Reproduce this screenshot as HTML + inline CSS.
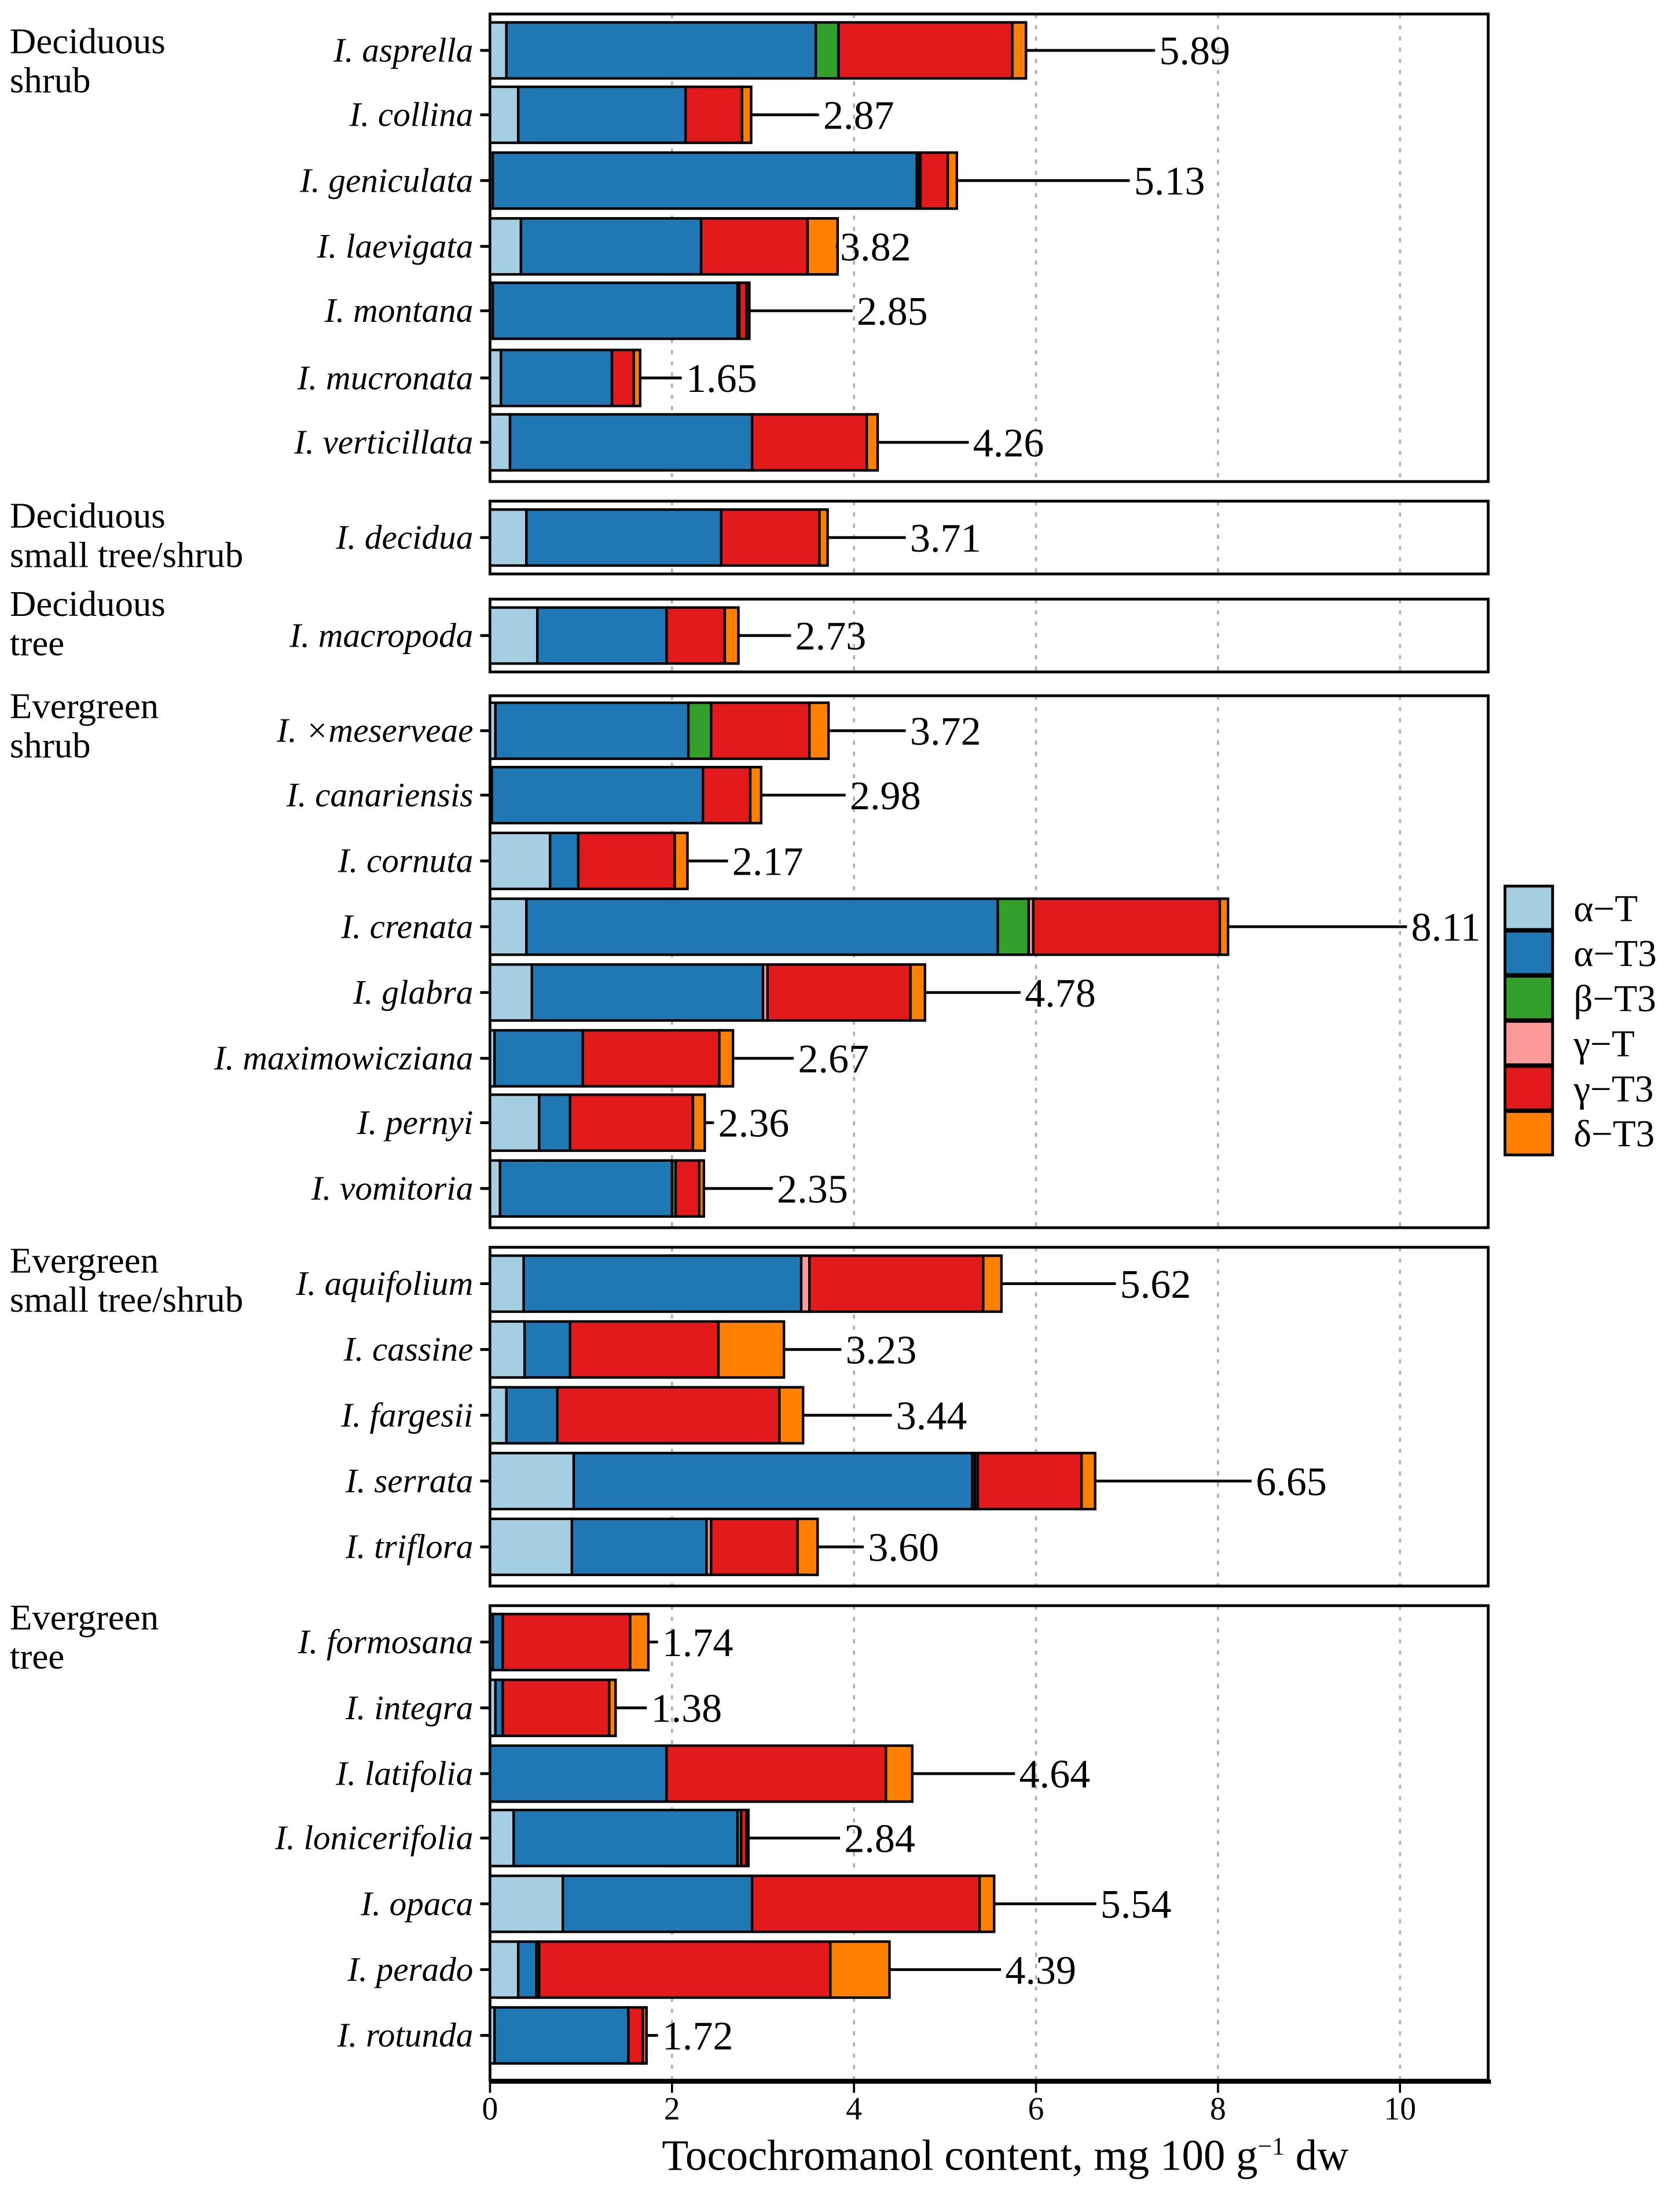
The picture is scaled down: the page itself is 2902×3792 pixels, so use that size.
<!DOCTYPE html>
<html><head><meta charset="utf-8">
<style>
html,body{margin:0;padding:0;background:#fff;}
svg{display:block;}
text{font-family:"Liberation Serif",serif;fill:#000;}
</style></head>
<body>
<svg id="chart" width="2902" height="3792" viewBox="0 0 1200 1568" preserveAspectRatio="none" xmlns="http://www.w3.org/2000/svg"></svg>
<script>
const species = ["I. asprella","I. collina","I. geniculata","I. laevigata","I. montana","I. mucronata","I. verticillata",
"I. decidua","I. macropoda",
"I. ×meserveae","I. canariensis","I. cornuta","I. crenata","I. glabra","I. maximowicziana","I. pernyi","I. vomitoria",
"I. aquifolium","I. cassine","I. fargesii","I. serrata","I. triflora",
"I. formosana","I. integra","I. latifolia","I. lonicerifolia","I. opaca","I. perado","I. rotunda"];
const alphaT   = [.18,.31,.03,.34,.03,.12,.22, .40,.52, .06,.02,.66,.40,.46,.05,.54,.11, .37,.38,.18,.92,.90, .03,.06,0,.26,.80,.31,.05];
const alphaT3  = [3.40,1.84,4.66,1.98,2.69,1.22,2.66, 2.14,1.42, 2.12,2.32,.31,5.18,2.54,.97,.34,1.89, 3.05,.50,.56,4.38,1.48, .11,.08,1.94,2.46,2.08,.20,1.47];
const betaT3   = [.25,0,.03,0,.02,0,0, 0,0, .25,0,0,.34,0,0,0,.04, 0,0,0,.03,0, 0,0,0,.04,0,.03,0];
const gammaT   = [0,0,.01,0,0,0,0, 0,0, 0,0,0,.05,.05,0,0,0, .09,0,0,.03,.05, 0,0,0,0,0,0,0];
const gammaT3  = [1.91,.62,.30,1.17,.08,.24,1.26, 1.08,.64, 1.08,.52,1.06,2.05,1.57,1.50,1.35,.26, 1.91,1.63,2.44,1.14,.95, 1.40,1.17,2.41,.06,2.50,3.20,.16];
const deltaT3  = [.15,.10,.10,.33,.03,.07,.12, .09,.15, .21,.12,.14,.09,.16,.15,.13,.05, .20,.72,.26,.15,.22, .20,.07,.29,.02,.16,.65,.04];
const totals   = ["5.89","2.87","5.13","3.82","2.85","1.65","4.26","3.71","2.73","3.72","2.98","2.17","8.11","4.78","2.67","2.36","2.35","5.62","3.23","3.44","6.65","3.60","1.74","1.38","4.64","2.84","5.54","4.39","1.72"];
const seriesNames = ["α−T","α−T3","β−T3","γ−T","γ−T3","δ−T3"];
const xTicks = [0,2,4,6,8,10];
// layout (not data)
const rowY = [36,82,129,176,222,270,316, 384, 454, 522,568,615,662,709,756,802,849, 917,964,1011,1058,1105, 1173,1220,1267,1313,1360,1407,1454];
const labelX = [828,588,810,600,612,490,695,650,568,650,607,523,1008,732,570,513,555,800,604,640,897,620,473,465,728,603,786,718,473];
const panels = [[10,344],[358,410],[428,480],[497,877],[891,1133],[1147,1486]];
const groups = [["Deciduous","shrub",38],["Deciduous","small tree/shrub",377],["Deciduous","tree",440],["Evergreen","shrub",513],["Evergreen","small tree/shrub",909],["Evergreen","tree",1164]];
const colors = ["#a6cee3","#1f78b4","#33a02c","#fb9a99","#e31a1c","#ff7f00"];
const series = [alphaT,alphaT3,betaT3,gammaT,gammaT3,deltaT3];

const NS="http://www.w3.org/2000/svg";
const svg=document.getElementById('chart');
const X0=350, UNIT=65, PR=1063;
const xs=v=>X0+v*UNIT;
function el(tag,attrs,parent){const e=document.createElementNS(NS,tag);for(const k in attrs)e.setAttribute(k,attrs[k]);(parent||svg).appendChild(e);return e;}

panels.forEach((p,i)=>{
  const g=el('g',{});
  
  
  xTicks.slice(1).forEach(t=>{
    const l=el('line',{x1:xs(t),x2:xs(t),y1:p[0],y2:p[1],stroke:'#b0b0b0','stroke-width':1.5,'stroke-dasharray':'3,5'},g);
    
    
  });
  const r=el('rect',{x:X0,y:p[0],width:PR-X0,height:p[1]-p[0],fill:'none',stroke:'#000','stroke-width':2},g);
  
  
});

groups.forEach(g=>{
  const t=el('text',{x:7,y:g[2],'font-size':26});
  
  
  el('tspan',{x:7,dy:0},t).textContent=g[0];
  el('tspan',{x:7,dy:28},t).textContent=g[1];
});

const BH=40;
species.forEach((sp,i)=>{
  const y=rowY[i];
  const g=el('g',{});
  
  
  let cum=0;
  series.forEach((s,j)=>{
    const v=s[i];
    if(v<=0){return;}
    const r=el('rect',{x:xs(cum),y:y-BH/2,width:v*UNIT,height:BH,fill:colors[j],stroke:'#000','stroke-width':1.8},g);
    
    
    cum+=v;
  });
  const tot=parseFloat(totals[i]);
  const ln=el('line',{x1:xs(tot),x2:labelX[i]-3,y1:y,y2:y,stroke:'#000','stroke-width':2},g);
  
  
  const vt=el('text',{x:labelX[i],y:y+10,'font-size':29},g);
  
  
  vt.textContent=totals[i];
  const tk=el('line',{x1:343,x2:350,y1:y,y2:y,stroke:'#000','stroke-width':2});
  
  
  const st=el('text',{x:338,y:y+8,'font-size':24.5,'font-style':'italic','text-anchor':'end'});
  
  
  st.textContent=sp;
});

const ax=el('line',{x1:X0,x2:1065,y1:1487,y2:1487,stroke:'#000','stroke-width':3});


xTicks.forEach(t=>{
  const l=el('line',{x1:xs(t),x2:xs(t),y1:1487,y2:1495,stroke:'#000','stroke-width':1.5});
  
  
  const tx=el('text',{x:xs(t),y:1514,'font-size':23,'text-anchor':'middle'});
  
  
  tx.textContent=t;
});
const xt=el('text',{x:718,y:1550,'font-size':31,'text-anchor':'middle'});


xt.innerHTML='Tocochromanol content, mg 100 g<tspan dy="-11" font-size="18">−1</tspan><tspan dy="11"> dw</tspan>';

const lg=el('g',{});


seriesNames.forEach((n,j)=>{
  const y=633+j*32.2;
  const r=el('rect',{x:1075,y:y,width:34,height:31,fill:colors[j],stroke:'#000','stroke-width':2},lg);
  
  
  const t=el('text',{x:1124,y:y+25,'font-size':27},lg);
  
  
  t.textContent=n;
});
</script>
</body></html>
